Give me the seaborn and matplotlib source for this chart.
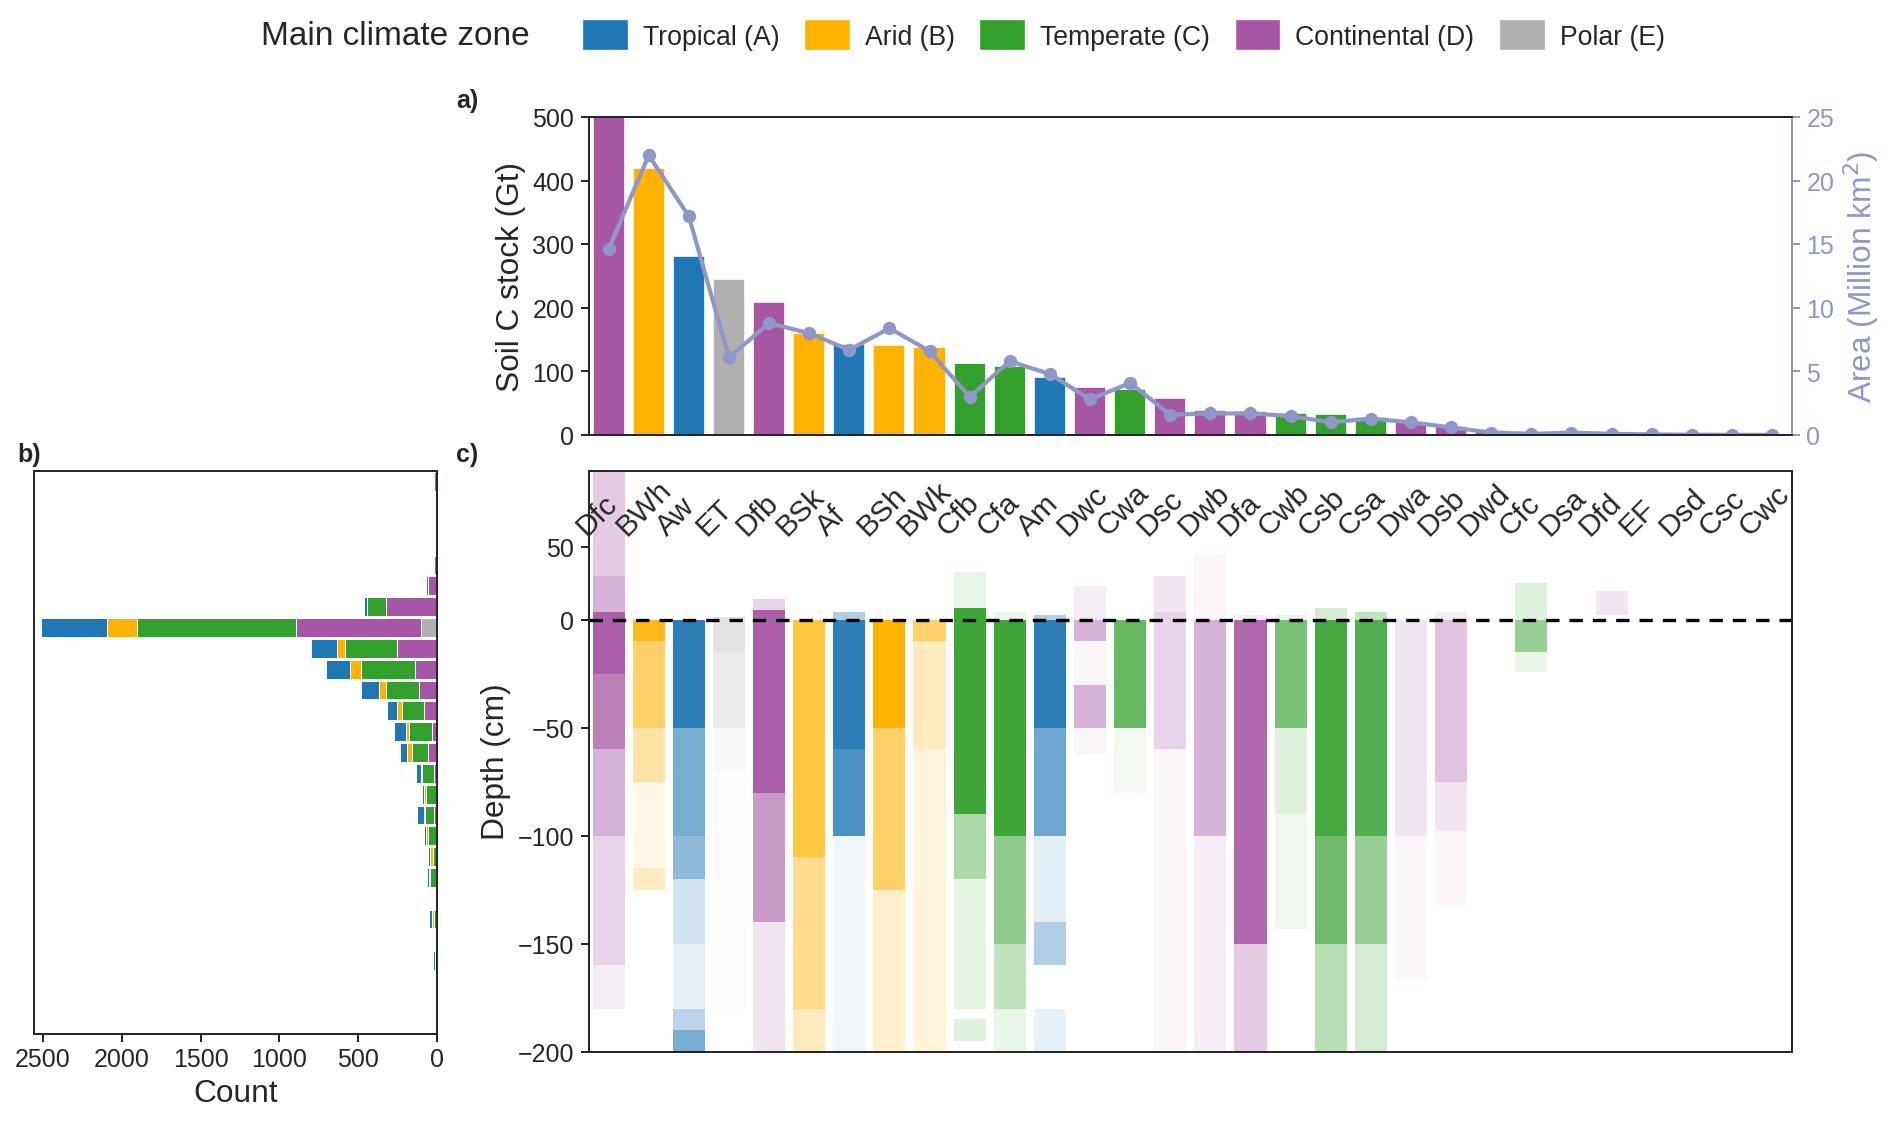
import matplotlib

matplotlib.use("Agg")
import matplotlib.pyplot as plt  # noqa: E402
import numpy as np  # noqa: E402
import pandas as pd  # noqa: E402
import seaborn as sns  # noqa: E402
from matplotlib.patches import Patch  # noqa: E402
from matplotlib.transforms import blended_transform_factory  # noqa: E402

sns.set_theme(style="ticks")
plt.rcParams["font.family"] = ["Liberation Sans", "DejaVu Sans"]

ZONE_NAMES = ["Tropical (A)", "Arid (B)", "Temperate (C)", "Continental (D)", "Polar (E)"]
ZONE_COLORS = ["#1f77b4", "#ffb300", "#33a02c", "#a656a4", "#b0b0b0"]
LINE_COLOR = "#8e97c8"

classes = ["Dfc", "BWh", "Aw", "ET", "Dfb", "BSk", "Af", "BSh", "BWk", "Cfb", "Cfa", "Am",
           "Dwc", "Cwa", "Dsc", "Dwb", "Dfa", "Cwb", "Csb", "Csa", "Dwa", "Dsb", "Dwd", "Cfc",
           "Dsa", "Dfd", "EF", "Dsd", "Csc", "Cwc"]
soc_stock = [500, 420, 282, 245, 210, 160, 143, 142, 138, 113, 108, 92, 75, 72, 58, 40, 38,
             35, 33, 28, 20, 15, 8, 5, 3, 2, 1, 1, 0.5, 0.3]
area = [14.6, 22.0, 17.2, 6.1, 8.8, 8.0, 6.7, 8.4, 6.6, 3.0, 5.8, 4.8, 2.8, 4.1, 1.6, 1.7,
        1.7, 1.5, 1.0, 1.3, 1.0, 0.6, 0.2, 0.1, 0.2, 0.1, 0.05, 0.03, 0.02, 0.01]

# depth histogram, rows top to bottom, counts per zone [A, B, C, D, E]
hist_counts = [
    [0, 0, 0, 18, 0], [0, 0, 0, 0, 0], [0, 0, 0, 0, 0], [0, 0, 0, 0, 0],
    [0, 0, 0, 22, 0], [9, 0, 9, 60, 0], [18, 0, 120, 323, 0], [420, 190, 1010, 790, 103],
    [163, 51, 326, 257, 0], [154, 70, 341, 139, 0], [114, 46, 205, 117, 0],
    [62, 33, 139, 84, 0], [75, 20, 141, 35, 0], [44, 31, 103, 55, 0], [29, 11, 75, 18, 0],
    [15, 11, 64, 9, 0], [46, 9, 57, 18, 0], [18, 11, 53, 4, 0], [15, 18, 24, 2, 0],
    [13, 9, 42, 2, 0], [11, 2, 15, 0, 0], [18, 9, 22, 0, 0], [9, 2, 15, 0, 0],
    [9, 7, 9, 0, 0], [2, 0, 11, 0, 0], [9, 2, 11, 0, 0], [13, 0, 0, 0, 0],
]

# depth profiles: (top cm, bottom cm, opacity)
profiles = {
    "Dfc": [(102, 30, 0.3), (30, 5, 0.45), (5, -25, 0.95), (-25, -60, 0.75), (-60, -100, 0.45),
            (-100, -160, 0.25), (-160, -180, 0.1)],
    "BWh": [(0, -10, 0.9), (-10, -50, 0.6), (-50, -75, 0.35), (-75, -115, 0.1), (-115, -125, 0.25)],
    "Aw": [(0, -50, 0.95), (-50, -100, 0.6), (-100, -120, 0.5), (-120, -150, 0.2),
           (-150, -180, 0.1), (-180, -190, 0.3), (-190, -200, 0.6)],
    "ET": [(2, -15, 0.35), (-15, -50, 0.25), (-50, -70, 0.08), (-70, -180, 0.03)],
    "Dfb": [(14, 7, 0.25), (7, -80, 0.95), (-80, -140, 0.6), (-140, -200, 0.15)],
    "BSk": [(0, -110, 0.75), (-110, -180, 0.45), (-180, -200, 0.25)],
    "Af": [(5, 0, 0.35), (0, -60, 0.95), (-60, -100, 0.8), (-100, -200, 0.07)],
    "BSh": [(0, -50, 1.0), (-50, -125, 0.6), (-125, -200, 0.2)],
    "BWk": [(0, -10, 0.6), (-10, -60, 0.25), (-60, -200, 0.15)],
    "Cfb": [(33, 8, 0.1), (8, -90, 0.95), (-90, -120, 0.4), (-120, -180, 0.12), (-185, -195, 0.15)],
    "Cfa": [(5, 0, 0.1), (0, -100, 0.95), (-100, -150, 0.55), (-150, -180, 0.3), (-180, -200, 0.1)],
    "Am": [(3, 0, 0.35), (0, -50, 0.95), (-50, -100, 0.65), (-100, -140, 0.12),
           (-140, -160, 0.35), (-180, -200, 0.1)],
    "Dwc": [(23, 0, 0.1), (0, -10, 0.45), (-10, -30, 0.05), (-30, -50, 0.45), (-50, -62, 0.05)],
    "Cwa": [(0, -50, 0.75), (-50, -80, 0.06)],
    "Dsc": [(30, 5, 0.15), (5, -60, 0.25), (-60, -200, 0.05)],
    "Dwb": [(45, 0, 0.06), (0, -100, 0.45), (-100, -200, 0.1)],
    "Dfa": [(3, 0, 0.1), (0, -150, 0.9), (-150, -200, 0.3)],
    "Cwb": [(3, 0, 0.1), (0, -50, 0.65), (-50, -90, 0.15), (-90, -143, 0.07)],
    "Csb": [(8, 0, 0.2), (0, -100, 0.9), (-100, -150, 0.7), (-150, -200, 0.35)],
    "Csa": [(5, 0, 0.3), (0, -100, 0.85), (-100, -150, 0.5), (-150, -200, 0.2)],
    "Dwa": [(0, -100, 0.15), (-100, -167, 0.05)],
    "Dsb": [(5, 0, 0.1), (0, -75, 0.35), (-75, -98, 0.15), (-98, -132, 0.05)],
    "Cfc": [(25, 0, 0.15), (0, -15, 0.5), (-15, -24, 0.1)],
    "Dfd": [(20, 3, 0.15)],
}


def zone_color(cls):
    return ZONE_COLORS["ABCDE".index(cls[0])]


fig = plt.figure(figsize=(15.77, 9.43), dpi=120)
ax_a = fig.add_axes([0.311, 0.615, 0.636, 0.281])
ax_b = fig.add_axes([0.018, 0.086, 0.213, 0.497])
ax_c = fig.add_axes([0.311, 0.07, 0.636, 0.513])

# a) soil C stock bars + area line
df = pd.DataFrame({"cls": classes, "soc": soc_stock, "area": area})
sns.barplot(data=df, x="cls", y="soc", hue="cls", palette=[zone_color(c) for c in classes],
            width=0.8, legend=False, saturation=1, ax=ax_a)
ax_a.set_ylim(0, 500)
ax_a.set_xlim(-0.5, len(classes) - 0.5)
ax_a.set_xticks([])
ax_a.set_xlabel("")
ax_a.set_ylabel("Soil C stock (Gt)", fontsize=19)
ax_a.tick_params(labelsize=15, width=1.2, length=5)
ax2 = ax_a.twinx()
ax2.plot(np.arange(len(classes)), area, color=LINE_COLOR, lw=2.5, marker="o", ms=7)
ax2.set_ylim(0, 25)
ax2.set_ylabel("Area (Million km$^2$)", fontsize=19, color=LINE_COLOR)
ax2.tick_params(labelsize=15, colors=LINE_COLOR, width=1.2, length=5)
ax2.spines["right"].set_color(LINE_COLOR)

# b) stacked depth histogram (drawn outward from 0: E, D, C, B, A)
counts = np.array(hist_counts)
rows = np.arange(len(counts))
left = np.zeros(len(counts))
for z in [4, 3, 2, 1, 0]:
    ax_b.barh(rows, counts[:, z], left=left, height=0.9, color=ZONE_COLORS[z],
              edgecolor="white", linewidth=0.6)
    left += counts[:, z]
ax_b.set_xlim(2555, 0)
ax_b.set_ylim(len(counts) - 0.5, -0.5)
ax_b.set_yticks([])
ax_b.set_xticks([2500, 2000, 1500, 1000, 500, 0])
ax_b.tick_params(labelsize=15, width=1.2, length=5)
ax_b.set_xlabel("Count", fontsize=19)

# c) depth profiles
k = 0.674
ax_c.set_yscale("function", functions=(lambda y: np.where(y > 0, y * k, y),
                                       lambda y: np.where(y > 0, y / k, y)))
lab_tr = blended_transform_factory(ax_c.transData, ax_c.transAxes)
for i, cls in enumerate(classes):
    for top, bot, a in profiles.get(cls, []):
        ax_c.bar(i, top - bot, bottom=bot, width=0.8, color=zone_color(cls), alpha=a,
                 linewidth=0)
    ax_c.text(i - 0.45, 0.88, cls, rotation=45, fontsize=18, ha="left", va="bottom",
              rotation_mode="anchor", transform=lab_tr)
ax_c.axhline(0, color="black", ls="--", lw=2, dashes=(4, 3))
ax_c.set_xlim(-0.5, len(classes) - 0.5)
ax_c.set_ylim(-200, 102)
ax_c.set_yticks([50, 0, -50, -100, -150, -200])
ax_c.set_xticks([])
ax_c.tick_params(labelsize=15, width=1.2, length=5)
ax_c.set_ylabel("Depth (cm)", fontsize=19)

for ax in [ax_a, ax2, ax_b, ax_c]:
    for s in ax.spines.values():
        s.set_linewidth(1.2)

fig.text(0.241, 0.905, "a)", fontsize=15, fontweight="bold")
fig.text(0.009, 0.592, "b)", fontsize=15, fontweight="bold")
fig.text(0.241, 0.592, "c)", fontsize=15, fontweight="bold")

fig.text(0.138, 0.968, "Main climate zone", fontsize=20, va="center")
handles = [Patch(color=c, label=n) for c, n in zip(ZONE_COLORS, ZONE_NAMES)]
fig.legend(handles=handles, loc="center left", bbox_to_anchor=(0.296, 0.968), ncol=5,
           frameon=False, fontsize=16, handlelength=1.6, handleheight=1.2,
           columnspacing=1.0, handletextpad=0.6)

fig.savefig("out.png", dpi=120)
